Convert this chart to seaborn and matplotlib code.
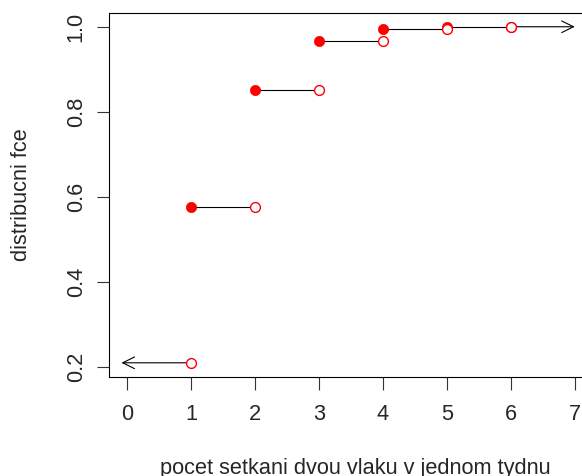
import matplotlib
matplotlib.use("Agg")
import matplotlib.pyplot as plt
import seaborn as sns
import pandas as pd

# Data (cumulative distribution values)
k_values = [0, 1, 2, 3, 4, 5, 6]
cdf_values = [0.2097, 0.5767, 0.8520, 0.9667, 0.9953, 0.9996, 1.0000]
x_ticks = [0, 1, 2, 3, 4, 5, 6, 7]
y_ticks = [0.2, 0.4, 0.6, 0.8, 1.0]
x_label = "pocet setkani dvou vlaku v jednom tydnu"
y_label = "distribucni fce"

sns.set_style("white")
plt.rcParams['font.family'] = ['Liberation Sans', 'DejaVu Sans']

fig = plt.figure(figsize=(5.82, 4.76), dpi=100)
ax = fig.add_axes([0.1878, 0.2086, 0.8305, 0.7635])

# closed points at (k, F(k)) for k>=1, open points at (k+1, F(k))
closed = pd.DataFrame({"x": k_values[1:], "y": cdf_values[1:]})
opened = pd.DataFrame({"x": [k + 1 for k in k_values[:-1]], "y": cdf_values[:-1]})

# horizontal steps
for k, f in zip(k_values[1:-1], cdf_values[1:-1]):
    ax.plot([k, k + 1], [f, f], color="black", lw=0.8, zorder=1)

arrow_style = dict(arrowstyle="->,head_length=0.85,head_width=0.42", lw=0.8,
                   color="black", shrinkA=0, shrinkB=0)
ax.annotate("", xy=(7.0, cdf_values[-1]), xytext=(k_values[-1], cdf_values[-1]),
            arrowprops=arrow_style, zorder=1)
ax.annotate("", xy=(-0.09, cdf_values[0]), xytext=(k_values[0] + 1, cdf_values[0]),
            arrowprops=arrow_style, zorder=1)

sns.scatterplot(data=closed, x="x", y="y", ax=ax, color="red", s=55,
                edgecolor="red", linewidth=0.5, zorder=3, legend=False)
sns.scatterplot(data=opened, x="x", y="y", ax=ax, facecolor="white", s=50,
                edgecolor="red", linewidth=1.0, zorder=4, legend=False)

ax.set_xlim(-0.28, 7.28)
ax.set_ylim(0.177, 1.0317)
ax.set_xticks(x_ticks)
ax.set_yticks(y_ticks)
ax.set_xticklabels([str(t) for t in x_ticks])
ax.set_yticklabels([f"{t:.1f}" for t in y_ticks], rotation=90, va="center")
ax.set_xlabel("")
ax.set_ylabel("")

for side in ["left", "bottom", "top", "right"]:
    ax.spines[side].set_visible(True)
    ax.spines[side].set_color("black")
    ax.spines[side].set_linewidth(0.8)

ax.tick_params(axis="both", which="major", direction="out", length=9,
               width=0.8, color="#333333", labelsize=15.7)
ax.tick_params(axis="x", pad=11, bottom=True)
ax.tick_params(axis="y", pad=7.2, left=True)

fig.text(355 / 582, (476 - 474) / 476, x_label, ha="center", va="baseline",
         fontsize=15.7)
fig.text(22 / 582, (476 - 195) / 476, y_label, ha="center", va="center",
         rotation=90, fontsize=15.7)

fig.savefig("out.png", dpi=100)
